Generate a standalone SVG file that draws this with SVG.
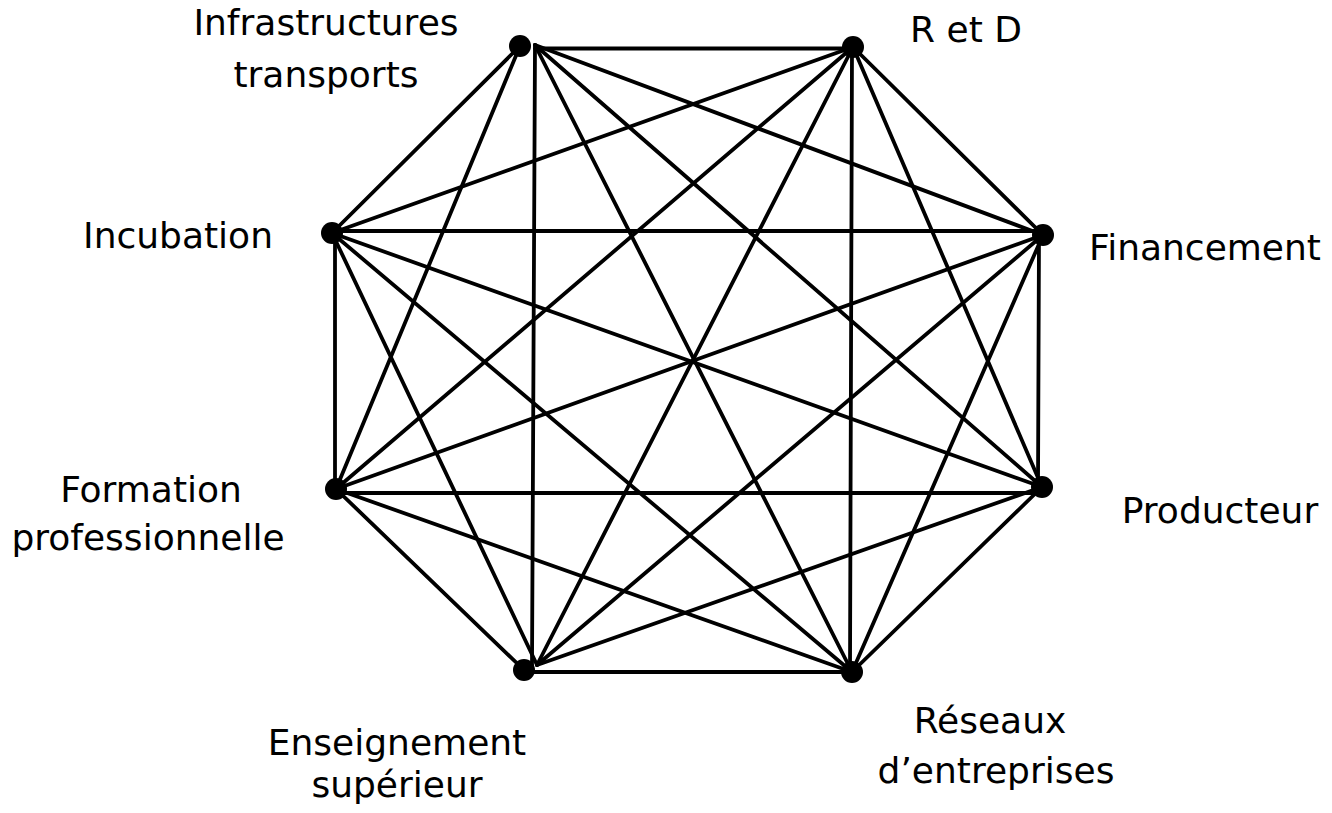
<svg xmlns="http://www.w3.org/2000/svg" width="1332" height="813" viewBox="0 0 1332 813">
<style>
.e{stroke:#000;stroke-width:3.8;fill:none;stroke-linecap:round}
.n{fill:#000}
.t{font-family:"DejaVu Sans",Verdana,sans-serif;font-size:36px;fill:#000;text-anchor:middle}
</style>
<rect width="1332" height="813" fill="#fff"/>
<g id="connectors">
<line class="e" x1="535" y1="48.5" x2="853" y2="48.5"/>
<line class="e" x1="535" y1="45" x2="1043" y2="235"/>
<line class="e" x1="535" y1="45" x2="1042" y2="487"/>
<line class="e" x1="535" y1="45" x2="852" y2="672"/>
<line class="e" x1="535" y1="45" x2="532" y2="668"/>
<line class="e" x1="520" y1="46" x2="336" y2="489"/>
<line class="e" x1="520" y1="46" x2="332" y2="233"/>
<line class="e" x1="853" y1="47" x2="1043" y2="235"/>
<line class="e" x1="853" y1="47" x2="1042" y2="487"/>
<line class="e" x1="852" y1="47" x2="850" y2="672"/>
<line class="e" x1="853" y1="47" x2="537" y2="665"/>
<line class="e" x1="853" y1="47" x2="336" y2="489"/>
<line class="e" x1="853" y1="47" x2="332" y2="233"/>
<line class="e" x1="1039" y1="235" x2="1038" y2="487"/>
<line class="e" x1="1043" y1="235" x2="852" y2="672"/>
<line class="e" x1="1043" y1="235" x2="537" y2="665"/>
<line class="e" x1="1043" y1="235" x2="336" y2="489"/>
<line class="e" x1="338" y1="231" x2="1043" y2="231"/>
<line class="e" x1="1042" y1="487" x2="852" y2="672"/>
<line class="e" x1="1042" y1="487" x2="537" y2="665"/>
<line class="e" x1="336" y1="493" x2="1042" y2="493"/>
<line class="e" x1="1042" y1="487" x2="332" y2="233"/>
<line class="e" x1="524" y1="672" x2="852" y2="672"/>
<line class="e" x1="852" y1="672" x2="336" y2="489"/>
<line class="e" x1="852" y1="672" x2="332" y2="233"/>
<line class="e" x1="524" y1="670" x2="336" y2="489"/>
<line class="e" x1="537" y1="665" x2="332" y2="233"/>
<line class="e" x1="335" y1="233" x2="335" y2="489"/>
</g>
<g id="infrastructures">
<circle class="n" cx="520" cy="46" r="11"/>
<text class="t" x="326" y="35">Infrastructures</text>
<text class="t" x="326" y="87">transports</text>
</g>
<g id="r-et-d">
<circle class="n" cx="853" cy="47" r="11"/>
<text class="t" x="966" y="42">R et D</text>
</g>
<g id="financement">
<circle class="n" cx="1043" cy="235" r="11"/>
<text class="t" x="1205" y="260">Financement</text>
</g>
<g id="producteur">
<circle class="n" cx="1042" cy="487" r="11"/>
<text class="t" x="1220" y="523">Producteur</text>
</g>
<g id="reseaux">
<circle class="n" cx="852" cy="672" r="11"/>
<text class="t" x="990" y="733">Réseaux</text>
<text class="t" x="996" y="783">d’entreprises</text>
</g>
<g id="enseignement">
<circle class="n" cx="524" cy="670" r="11"/>
<text class="t" x="397" y="755">Enseignement</text>
<text class="t" x="397" y="797">supérieur</text>
</g>
<g id="formation">
<circle class="n" cx="336" cy="489" r="11"/>
<text class="t" x="151" y="502">Formation</text>
<text class="t" x="148" y="550">professionnelle</text>
</g>
<g id="incubation">
<circle class="n" cx="332" cy="233" r="11"/>
<text class="t" x="178" y="248">Incubation</text>
</g>
</svg>
